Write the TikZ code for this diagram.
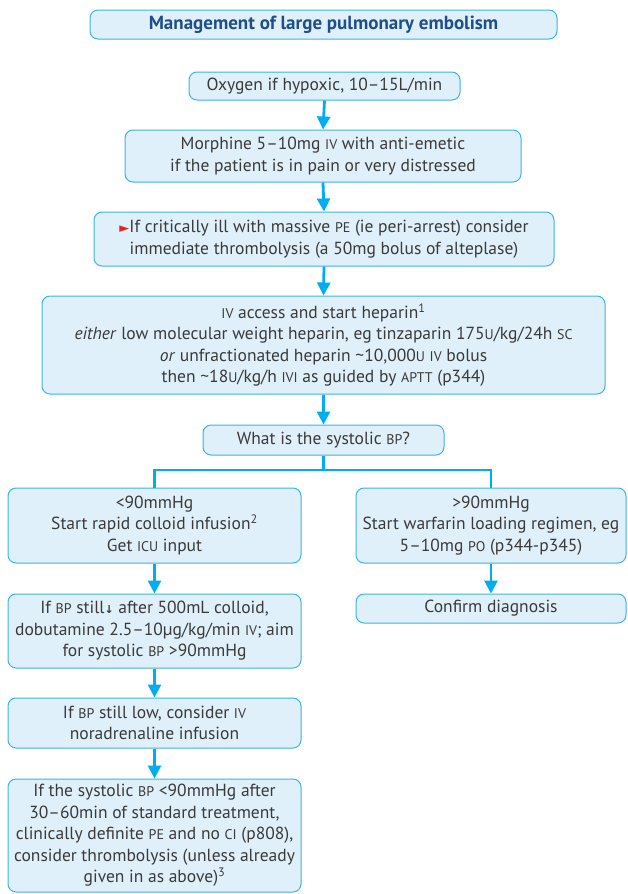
\documentclass[tikz,border=0pt]{standalone}
\usepackage{fontspec}
\setmainfont{PT Sans}
\newfontfamily\dejavu{DejaVu Sans}
\usetikzlibrary{arrows.meta}
\definecolor{boxfill}{HTML}{DFF0FA}
\definecolor{boxline}{HTML}{3BB4E6}
\definecolor{arrowc}{HTML}{00AEEF}
\definecolor{txt}{HTML}{3A3A3A}
\definecolor{titleblue}{HTML}{1D4F8C}
\definecolor{redtri}{HTML}{E42320}
\newcommand\smc[1]{{\fontsize{14}{16}\selectfont #1}}
\newcommand\tld{\textasciitilde}
\tikzset{
  box/.style={draw=boxline, fill=boxfill, rounded corners=8pt, line width=1pt,
    align=center, inner sep=1pt, text=txt, font=\fontsize{17.5}{21.5}\selectfont},
  flow/.style={draw=arrowc, line width=2.8pt, -{Triangle[length=13pt,width=13pt]}},
  link/.style={draw=arrowc, line width=2.8pt}
}
\begin{document}
\begin{tikzpicture}[x=1pt,y=-1pt]
\useasboundingbox (0,0) rectangle (627,894);
\node[box, minimum width=467pt, minimum height=29pt, text=titleblue,
  font=\fontsize{19}{22}\selectfont\bfseries] (title) at (323.5,24.5)
  {Management of large pulmonary embolism};
\node[box, minimum width=271pt, minimum height=28pt] (oxy) at (324.5,86)
  {Oxygen if hypoxic, 10–15L/min};
\node[box, minimum width=396pt, minimum height=52pt] (morph) at (323,156)
  {Morphine 5–10mg \smc{IV} with anti-emetic\\if the patient is in pain or very distressed};
\node[box, minimum width=460pt, minimum height=54pt] (crit) at (324,239)
  {{\dejavu\fontsize{13}{15}\selectfont\color{redtri}►}If critically ill with massive \smc{PE} (ie peri-arrest) consider\\immediate thrombolysis (a 50mg bolus of alteplase)};
\node[box, minimum width=563pt, minimum height=98pt] (hep) at (323.5,345)
  {\smc{IV} access and start heparin\textsuperscript{1}\\
   \textit{either} low molecular weight heparin, eg tinzaparin 175\smc{U}/kg/24h \smc{SC}\\
   \textit{or} unfractionated heparin \tld10,000\smc{U} \smc{IV} bolus\\
   then \tld18\smc{U}/kg/h \smc{IVI} as guided by \smc{APTT} (p344)};
\node[box, minimum width=241pt, minimum height=30pt] (q) at (323.5,440)
  {What is the systolic \smc{BP}?};
\node[box, minimum width=293pt, minimum height=75pt] (L1) at (154.5,525.5)
  {<90mmHg\\Start rapid colloid infusion\textsuperscript{2}\\Get \smc{ICU} input};
\node[box, minimum width=270pt, minimum height=75pt] (R1) at (491,525.5)
  {>90mmHg\\Start warfarin loading regimen, eg\\5–10mg \smc{PO} (p344-p345)};
\node[box, minimum width=293pt, minimum height=74pt] (L2) at (154.5,631)
  {If \smc{BP} still{\dejavu\fontsize{11}{13}\selectfont\bfseries ↓} after 500mL colloid,\\dobutamine 2.5–10µg/kg/min \smc{IV}; aim\\for systolic \smc{BP} >90mmHg};
\node[box, minimum width=270pt, minimum height=29pt] (R2) at (491,608.5)
  {Confirm diagnosis};
\node[box, minimum width=293pt, minimum height=50pt] (L3) at (154.5,723)
  {If \smc{BP} still low, consider \smc{IV}\\noradrenaline infusion};
\node[box, minimum width=293pt, minimum height=113pt] (L4) at (154.5,835.5)
  {If the systolic \smc{BP} <90mmHg after\\30–60min of standard treatment,\\clinically definite \smc{PE} and no \smc{CI} (p808),\\consider thrombolysis (unless already\\given in as above)\textsuperscript{3}};
\draw[flow] (oxy.south) -- (morph.north);
\draw[flow] (morph.south) -- (crit.north);
\draw[flow] (crit.south) -- (hep.north);
\draw[flow] (hep.south) -- (q.north);
\coordinate (bc) at (323.5,470);
\draw[link] (q.south) -- (bc);
\draw[link] (L1.north) |- (bc) -| (R1.north);
\draw[flow] (L1.south) -- (L2.north);
\draw[flow] (R1.south) -- (R2.north);
\draw[flow] (L2.south) -- (L3.north);
\draw[flow] (L3.south) -- (L4.north);
\end{tikzpicture}
\end{document}
